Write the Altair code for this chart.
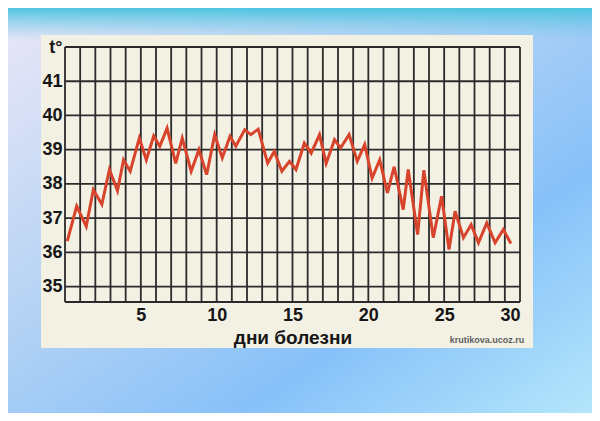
import altair as alt
import pandas as pd

# twice-daily temperature readings (day of illness, °C)
days = [0.15, 0.77, 1.4, 1.87, 2.43, 2.93, 3.46, 3.86, 4.3, 4.9,
        5.36, 5.85, 6.25, 6.73, 7.3, 7.73, 8.32, 8.83, 9.34, 9.87,
        10.37, 10.88, 11.26, 11.85, 12.25, 12.74, 13.36, 13.8, 14.3, 14.8,
        15.23, 15.78, 16.23, 16.78, 17.22, 17.77, 18.17, 18.73, 19.27, 19.76,
        20.25, 20.75, 21.26, 21.7, 22.3, 22.63, 23.25, 23.66, 24.28, 24.83,
        25.32, 25.72, 26.27, 26.78, 27.26, 27.81, 28.36, 28.9, 29.4]
temps = [36.33, 37.35, 36.76, 37.83, 37.4, 38.42, 37.8, 38.7, 38.37, 39.34,
         38.7, 39.4, 39.1, 39.63, 38.6, 39.34, 38.37, 39.0, 38.27, 39.44,
         38.76, 39.39, 39.1, 39.58, 39.44, 39.6, 38.61, 38.95, 38.37, 38.66,
         38.42, 39.19, 38.9, 39.44, 38.6, 39.29, 39.05, 39.44, 38.66, 39.15,
         38.17, 38.7, 37.74, 38.5, 37.25, 38.42, 36.52, 38.4, 36.43, 37.64,
         36.08, 37.2, 36.43, 36.81, 36.28, 36.86, 36.28, 36.67, 36.26]

day_grid = list(range(0, 31))
temp_grid = [34.55, 35, 36, 37, 38, 39, 40, 41, 42]
x_labels = [5, 10, 15, 20, 25, 30]
y_labels = [35, 36, 37, 38, 39, 40, 41, 42]
x_title = "дни болезни"
watermark = "krutikova.ucoz.ru"

df = pd.DataFrame({"day": days, "temp": temps})
vdf = pd.DataFrame({"day": day_grid})
hdf = pd.DataFrame({"temp": temp_grid})
one = pd.DataFrame({"a": [0]})

xs = alt.Scale(domain=[0, 30], nice=False, zero=False)
ys = alt.Scale(domain=[34.55, 42], nice=False, zero=False)

FONT = "Liberation Sans"
GRID = "#2b2b2b"
TXT = "#161616"

xaxis = alt.Axis(values=x_labels, grid=False, ticks=False, domain=False,
                 zindex=1,
                 labelFont=FONT, labelFontSize=18, labelFontWeight="bold",
                 labelColor=TXT, labelPadding=4,
                 title=x_title, titleFont=FONT, titleFontSize=19,
                 titleFontWeight="bold", titleColor=TXT,
                 titlePadding=4)
yaxis = alt.Axis(values=y_labels, grid=False, ticks=False, domain=False,
                 zindex=1,
                 labelExpr="datum.value == 42 ? 't°' : datum.label",
                 labelFont=FONT, labelFontSize=18, labelFontWeight="bold",
                 labelColor=TXT, labelPadding=3, title=None)

bg = alt.Chart(one).mark_rect(
    color=alt.LinearGradient(
        gradient="linear",
        stops=[alt.GradientStop(color="#ebe7f7", offset=0),
               alt.GradientStop(color="#b3d2f4", offset=0.4),
               alt.GradientStop(color="#87c1f9", offset=0.7),
               alt.GradientStop(color="#b4e6fb", offset=1)],
        x1=0, y1=0, x2=1, y2=1)
).encode(x=alt.value(-57), x2=alt.value(527), y=alt.value(-39), y2=alt.value(366))

top = alt.Chart(one).mark_rect(
    color=alt.LinearGradient(
        gradient="linear",
        stops=[alt.GradientStop(color="rgba(70,195,222,0.95)", offset=0),
               alt.GradientStop(color="rgba(120,200,235,0.0)", offset=1)],
        x1=0, y1=0, x2=0, y2=1)
).encode(x=alt.value(-57), x2=alt.value(527), y=alt.value(-39), y2=alt.value(-6))

panel = alt.Chart(one).mark_rect(color="#f3f1e4").encode(
    x=alt.value(-24), x2=alt.value(468), y=alt.value(-12), y2=alt.value(301))

vrules = alt.Chart(vdf).mark_rule(color=GRID, strokeWidth=1.8).encode(
    x=alt.X("day:Q", scale=xs, axis=xaxis))
hrules = alt.Chart(hdf).mark_rule(color=GRID, strokeWidth=1.8).encode(
    y=alt.Y("temp:Q", scale=ys, axis=yaxis))

line = alt.Chart(df).mark_line(color="#d8432b", strokeWidth=3).encode(
    x=alt.X("day:Q", scale=xs, axis=xaxis),
    y=alt.Y("temp:Q", scale=ys, axis=yaxis),
)

wm = alt.Chart(one).mark_text(
    text=watermark, font=FONT, fontSize=9, fontWeight="bold",
    color="#5e5e5e", align="center", baseline="middle"
).encode(x=alt.value(422), y=alt.value(293))

chart = alt.layer(bg, top, panel, vrules, hrules, line, wm).properties(
    width=455, height=255,
    autosize=alt.AutoSizeParams(type="none"),
    padding={"left": 57, "top": 39, "right": 72, "bottom": 111},
).configure_view(stroke=None)

chart.save("out.html", embed_options={"renderer": "svg", "actions": False})
